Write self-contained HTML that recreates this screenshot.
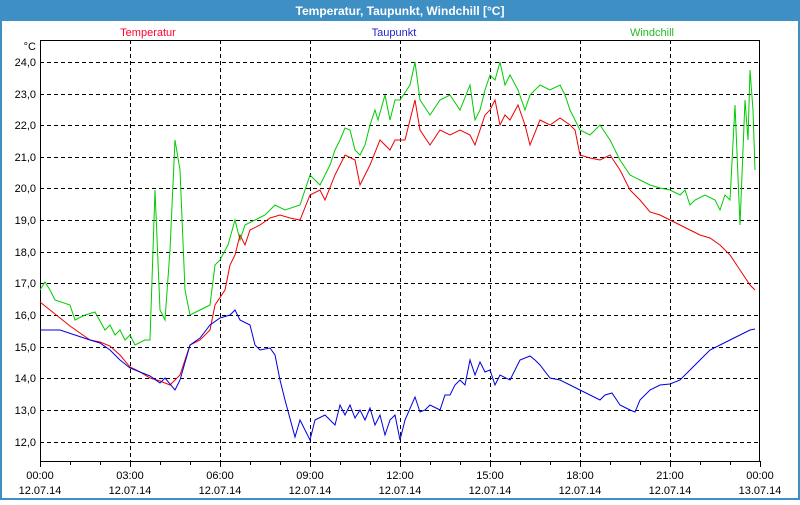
<!DOCTYPE html>
<html><head><meta charset="utf-8"><style>
body{margin:0;width:800px;height:500px;overflow:hidden;background:#fff;font-family:"Liberation Sans",sans-serif}
</style></head><body>
<svg width="800" height="500" xmlns="http://www.w3.org/2000/svg" font-family="Liberation Sans, sans-serif" font-size="11">
<rect x="0" y="0" width="800" height="500" fill="#fff"/>
<rect x="0" y="0" width="800" height="21" fill="#3d8fc4"/>
<rect x="0" y="0" width="2" height="500" fill="#3d8fc4"/>
<rect x="798" y="0" width="2" height="500" fill="#3d8fc4"/>
<rect x="0" y="498" width="800" height="2" fill="#3d8fc4"/>
<text x="400" y="15" text-anchor="middle" fill="#fff" font-weight="bold" font-size="12">Temperatur, Taupunkt, Windchill [°C]</text>
<text x="148" y="36" text-anchor="middle" fill="#ff0033">Temperatur</text>
<text x="394" y="36" text-anchor="middle" fill="#2222cc">Taupunkt</text>
<text x="652" y="36" text-anchor="middle" fill="#22bb22">Windchill</text>
<text x="36" y="50" text-anchor="end">°C</text>
<g stroke="#000" stroke-dasharray="4,3" stroke-width="1">
<line x1="40" y1="62.5" x2="760" y2="62.5"/><line x1="40" y1="94.5" x2="760" y2="94.5"/><line x1="40" y1="125.5" x2="760" y2="125.5"/><line x1="40" y1="157.5" x2="760" y2="157.5"/><line x1="40" y1="188.5" x2="760" y2="188.5"/><line x1="40" y1="220.5" x2="760" y2="220.5"/><line x1="40" y1="252.5" x2="760" y2="252.5"/><line x1="40" y1="283.5" x2="760" y2="283.5"/><line x1="40" y1="315.5" x2="760" y2="315.5"/><line x1="40" y1="347.5" x2="760" y2="347.5"/><line x1="40" y1="378.5" x2="760" y2="378.5"/><line x1="40" y1="410.5" x2="760" y2="410.5"/><line x1="40" y1="442.5" x2="760" y2="442.5"/>
<line x1="130.5" y1="40" x2="130.5" y2="461"/><line x1="220.5" y1="40" x2="220.5" y2="461"/><line x1="310.5" y1="40" x2="310.5" y2="461"/><line x1="400.5" y1="40" x2="400.5" y2="461"/><line x1="490.5" y1="40" x2="490.5" y2="461"/><line x1="580.5" y1="40" x2="580.5" y2="461"/><line x1="670.5" y1="40" x2="670.5" y2="461"/>
</g>
<rect x="40.5" y="40.5" width="719" height="421" fill="none" stroke="#000"/>
<g stroke="#000"><path d="M70.5 461v4M100.5 461v4M130.5 461v6M160.5 461v4M190.5 461v4M220.5 461v6M250.5 461v4M280.5 461v4M310.5 461v6M340.5 461v4M370.5 461v4M400.5 461v6M430.5 461v4M460.5 461v4M490.5 461v6M520.5 461v4M550.5 461v4M580.5 461v6M610.5 461v4M640.5 461v4M670.5 461v6M700.5 461v4M730.5 461v4M760.5 461v6M40.5 461v6"/></g>
<g text-anchor="end">
<text x="36" y="66">24,0</text><text x="36" y="98">23,0</text><text x="36" y="129">22,0</text><text x="36" y="161">21,0</text><text x="36" y="192">20,0</text><text x="36" y="224">19,0</text><text x="36" y="256">18,0</text><text x="36" y="287">17,0</text><text x="36" y="319">16,0</text><text x="36" y="351">15,0</text><text x="36" y="382">14,0</text><text x="36" y="414">13,0</text><text x="36" y="446">12,0</text>
</g>
<g text-anchor="middle">
<text x="40" y="479">00:00</text><text x="40" y="494">12.07.14</text>
<text x="130" y="479">03:00</text><text x="130" y="494">12.07.14</text>
<text x="220" y="479">06:00</text><text x="220" y="494">12.07.14</text>
<text x="310" y="479">09:00</text><text x="310" y="494">12.07.14</text>
<text x="400" y="479">12:00</text><text x="400" y="494">12.07.14</text>
<text x="490" y="479">15:00</text><text x="490" y="494">12.07.14</text>
<text x="580" y="479">18:00</text><text x="580" y="494">12.07.14</text>
<text x="670" y="479">21:00</text><text x="670" y="494">12.07.14</text>
<text x="760" y="479">00:00</text><text x="760" y="494">13.07.14</text>
</g>
<polyline fill="none" stroke="#00cc00" points="40,290 45,282 50,290 55,300 70,305 75,320 85,315 95,312 105,330 110,325 115,335 120,330 125,340 130,335 135,345 145,340 150,340 155,190 160,310 165,320 170,250 175,140 180,170 185,290 190,315 200,310 210,305 215,265 220,260 228,245 235,220 240,240 245,225 255,220 265,215 275,205 285,210 300,205 310,175 320,185 330,165 335,150 340,140 345,128 350,130 355,150 360,155 365,145 370,125 375,110 378,120 385,95 390,120 395,100 400,100 410,85 415,62 420,100 430,115 440,100 450,95 460,110 470,85 475,120 480,110 485,90 490,75 495,80 500,62 505,85 510,75 518,90 525,110 530,95 540,85 550,90 560,85 565,95 570,110 580,130 590,135 600,125 610,140 620,160 630,175 640,180 650,185 660,188 670,190 680,195 685,190 690,205 695,200 705,195 715,200 720,210 725,195 730,200 735,105 740,225 745,100 748,140 750,70 753,110 755,170"/>
<polyline fill="none" stroke="#ee0000" points="40,302 50,310 60,318 70,326 80,333 90,340 100,342 110,346 120,355 130,367 140,372 150,378 160,381 170,385 180,375 190,345 200,340 210,330 215,305 225,290 230,265 235,255 240,235 245,245 250,230 260,225 270,218 280,215 290,218 300,220 310,195 320,190 325,200 335,175 345,155 355,160 360,185 370,165 380,140 390,150 395,140 405,140 410,120 415,100 420,130 430,145 440,130 450,135 460,130 470,135 475,145 480,130 485,115 490,110 495,100 500,125 505,115 510,120 518,105 525,125 530,145 540,120 550,125 560,118 570,125 575,130 580,155 590,158 600,160 610,155 620,170 630,190 640,200 650,212 660,215 670,220 680,225 690,230 700,235 710,238 720,245 730,255 740,270 750,285 755,290"/>
<polyline fill="none" stroke="#0000dd" points="40,330 60,330 75,335 90,340 100,343 110,350 120,360 130,368 140,372 150,376 160,383 165,378 175,390 180,380 190,345 200,338 210,325 220,318 230,315 235,310 240,320 250,325 255,345 260,350 270,348 275,355 280,380 285,400 295,437 300,420 310,440 315,420 325,415 335,425 340,405 345,415 350,405 355,418 360,410 365,420 370,408 375,425 380,415 385,435 390,420 395,415 400,440 405,420 415,397 420,412 425,410 430,405 440,410 445,395 450,395 455,385 460,380 465,385 470,360 475,375 480,362 485,372 490,370 495,385 500,375 510,380 515,370 520,360 530,356 535,360 540,365 550,378 560,380 570,385 580,390 590,395 600,400 605,395 612,393 620,405 630,410 635,412 640,400 650,390 660,385 670,384 680,380 690,370 700,360 710,350 720,345 730,340 740,335 750,330 755,329"/>
</svg>
</body></html>
